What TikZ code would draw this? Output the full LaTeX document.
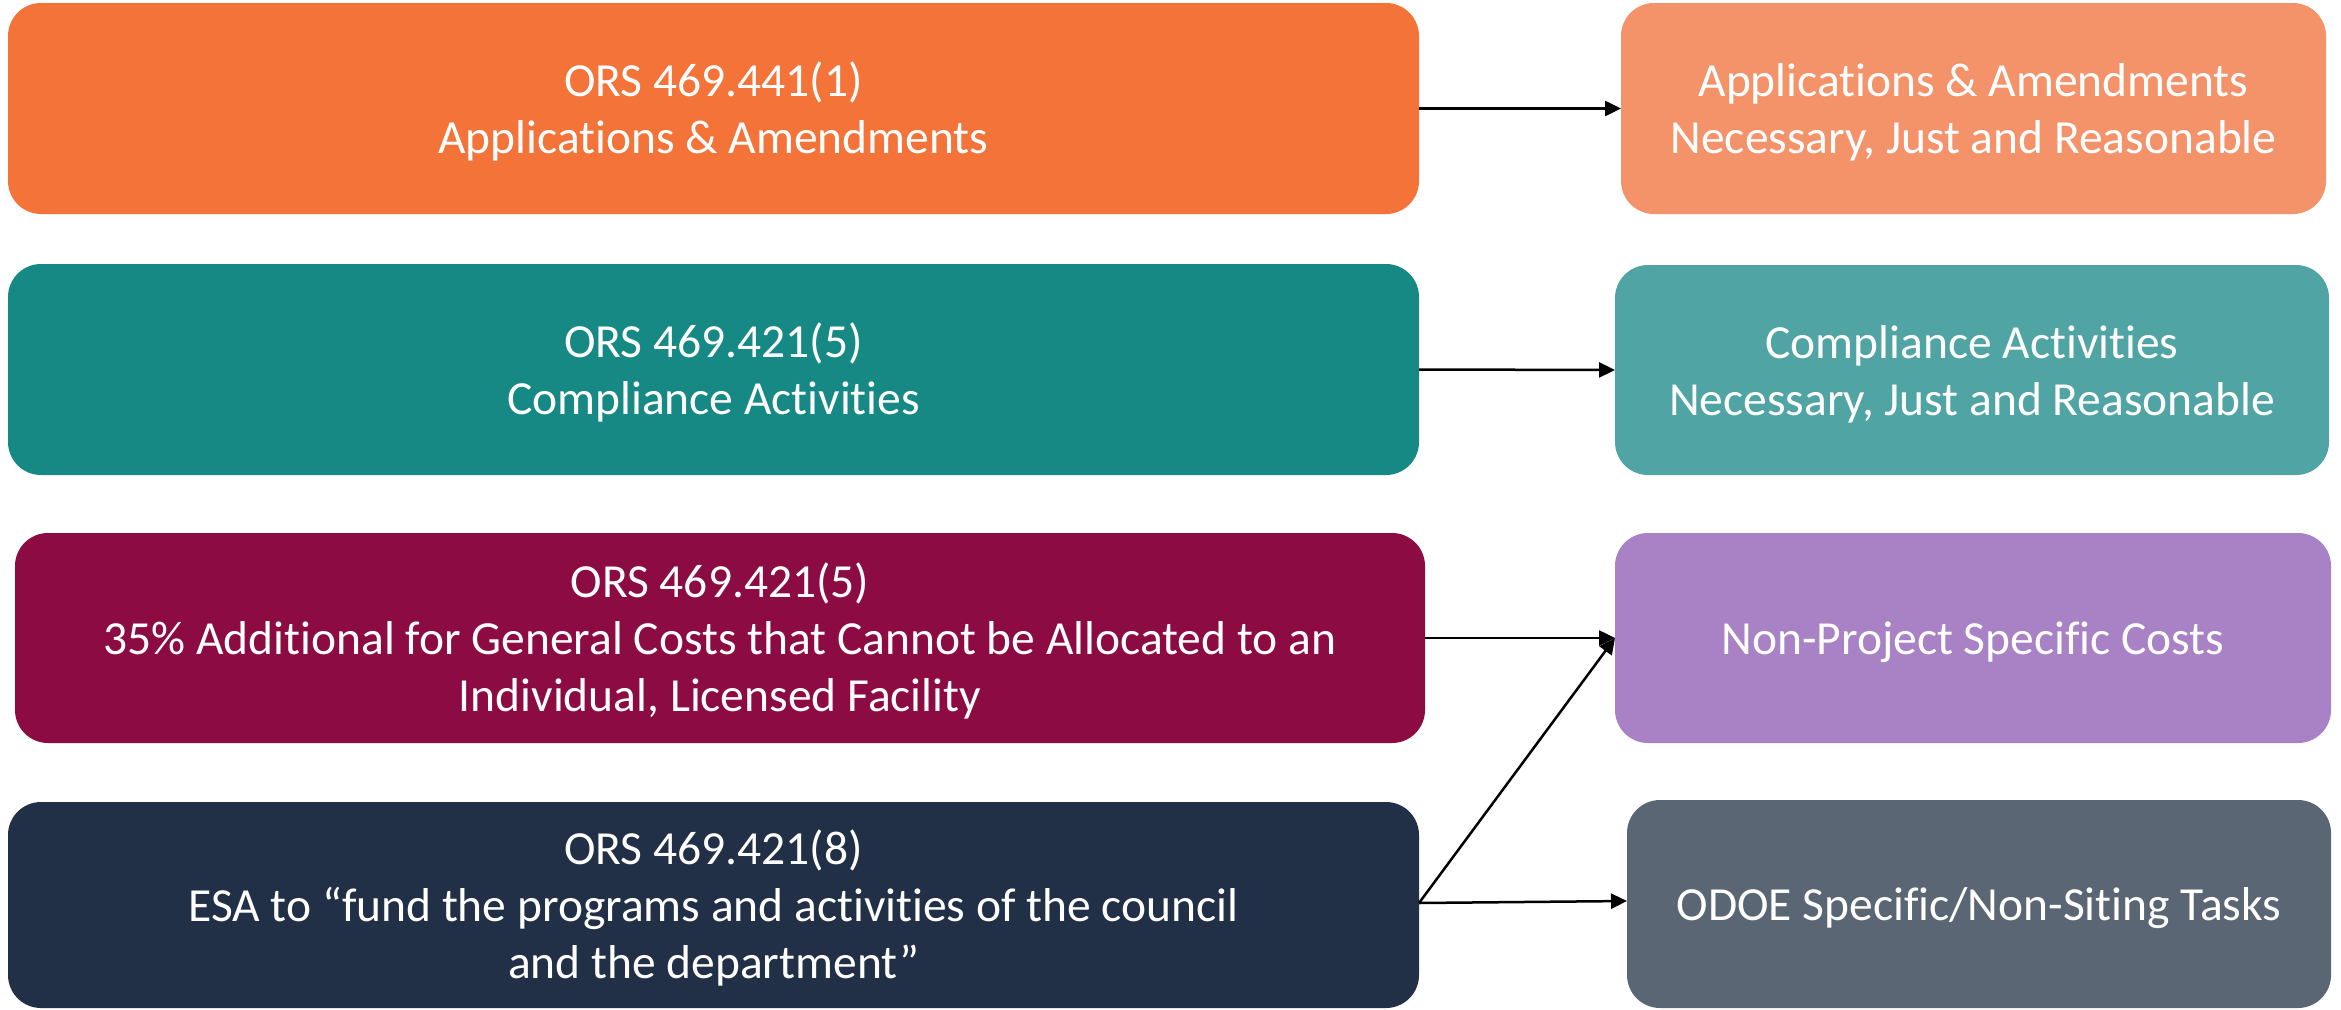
\documentclass[tikz,border=0pt]{standalone}
\usepackage{fontspec}
\setmainfont{Carlito}[Ligatures={NoCommon}]
\usetikzlibrary{arrows.meta}
\definecolor{cOrange}{HTML}{F37339}
\definecolor{cOrangeL}{HTML}{F4936A}
\definecolor{cTeal}{HTML}{178985}
\definecolor{cTealL}{HTML}{50A4A3}
\definecolor{cMaroon}{HTML}{8B0B42}
\definecolor{cLav}{HTML}{A882C4}
\definecolor{cNavy}{HTML}{223047}
\definecolor{cSlate}{HTML}{5B6675}
\newcommand{\tstrut}{\rule{0pt}{41pt}}
\tikzset{
  box/.style={rectangle, rounded corners=33pt, draw=none, inner sep=0pt, outer sep=0pt,
    text=white, align=center, font=\fontsize{47.5}{57}\selectfont},
  conn/.style={line width=2.5pt, -{Triangle[length=16pt,width=15pt]}}
}
\begin{document}
\begin{tikzpicture}[x=1pt,y=-1pt]
\useasboundingbox (0,0) rectangle (2341,1009);
\node[box, fill=cOrange, minimum width=1411pt, minimum height=211pt] (L1) at (713.5,108.5)
  {\tstrut ORS 469.441(1)\\Applications \& Amendments};
\node[box, fill=cTeal, minimum width=1411pt, minimum height=211pt] (L2) at (713.5,369.5)
  {\tstrut ORS 469.421(5)\\Compliance Activities};
\node[box, fill=cMaroon, minimum width=1410pt, minimum height=210pt] (L3) at (720,638)
  {\tstrut ORS 469.421(5)\\35\% Additional for General Costs that Cannot be Allocated to an\\Individual, Licensed Facility};
\node[box, fill=cNavy, minimum width=1411pt, minimum height=206pt] (L4) at (713.5,905)
  {\tstrut ORS 469.421(8)\\ESA to “fund the programs and activities of the council\\and the department”};
\node[box, fill=cOrangeL, minimum width=705pt, minimum height=211pt] (R1) at (1973.5,108.5)
  {\tstrut Applications \& Amendments\\Necessary, Just and Reasonable};
\node[box, fill=cTealL, minimum width=714pt, minimum height=210pt] (R2) at (1972,370)
  {\tstrut Compliance Activities\\Necessary, Just and Reasonable};
\node[box, fill=cLav, minimum width=716pt, minimum height=210pt] (R3) at (1973,638)
  {\tstrut Non-Project Specific Costs};
\node[box, fill=cSlate, minimum width=704pt, minimum height=208pt] (R4) at (1979,904)
  {\tstrut ODOE Specific/Non-Siting Tasks};
\draw[conn] (L1.east) -- (R1.west);
\draw[conn] (L2.east) -- (R2.west);
\draw[conn] (L3.east) -- (R3.west);
\draw[conn] ([yshift=2pt]L4.east) -- (R3.west);
\draw[conn] ([yshift=2pt]L4.east) -- ([yshift=3pt]R4.west);
\end{tikzpicture}
\end{document}
